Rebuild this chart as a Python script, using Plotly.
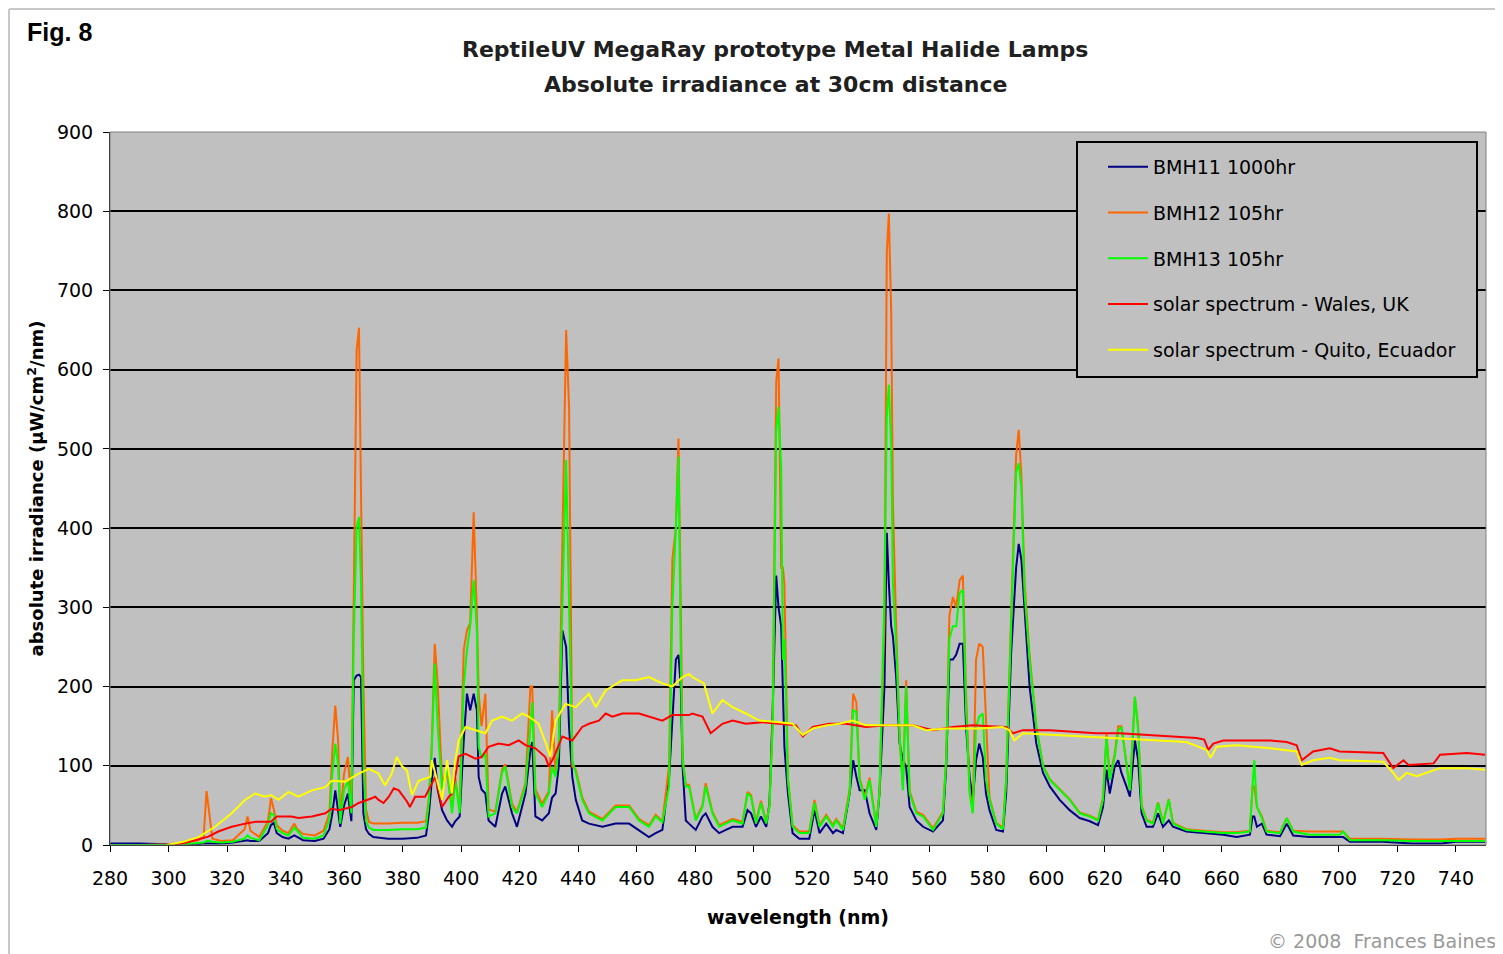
import plotly.graph_objects as go

# ---------------- data ----------------
lamp_nm = [280, 290, 300, 305, 310, 312, 313, 314, 315, 318, 322, 326, 327, 328, 331,
           334, 335, 336, 337, 339, 341, 343, 344, 346, 350, 353, 355, 356, 357, 358,
           358.7, 360, 361.3, 362.5, 363.3, 364.3, 365.1, 365.8, 366.6, 367.5, 368.5,
           370, 375, 380, 385, 388, 389, 390, 391, 392, 393.5, 395.2, 396.9, 398, 399.5,
           400.9, 402, 403.1, 404.3, 405.4, 406, 407, 408.3, 409.4, 411.7, 414, 415.1,
           417.4, 419.1, 422, 423.7, 424.3, 425.4, 427.7, 430, 431.1, 432.3, 433.4,
           434.6, 435.9, 436.9, 438, 439.2, 441.4, 443.7, 448.3, 452.8, 457.4, 460.8,
           464.2, 466.5, 468.8, 471.1, 472.2, 473.4, 474.3, 475.1, 475.7, 476.8, 477.9,
           480.2, 482.5, 483.6, 485.9, 488.2, 490.5, 492.8, 496.2, 497.9, 499.1, 500.8,
           502.5, 504.3, 505.4, 506.5, 507.7, 508.5, 509.4, 510, 510.5, 511.7, 513.3,
           515.6, 519, 520.8, 522.5, 524.8, 527.1, 528.2, 530.5, 532.8, 534, 535.1,
           536.2, 538, 539.6, 541.9, 543, 544.7, 545.5, 546.2, 547, 547.6, 548.7, 549.9,
           551, 552.1, 553.3, 555.6, 557.9, 561.3, 564.7, 565.8, 566.9, 568.1, 569.2,
           570.4, 571.5, 572.6, 573.8, 574.9, 576, 577.1, 578.3, 579.4, 580.6, 582.9,
           585.2, 586.3, 588, 589.7, 590.6, 591.5, 592.6, 594.3, 596.6, 598.9, 601.2,
           604.6, 608, 611.4, 614.9, 617.7, 619.4, 620.6, 621.7, 623.4, 624.6, 625.7,
           627.4, 628.6, 630.3, 631.4, 632.6, 634.3, 636.5, 638.2, 639.9, 641.9, 643.3,
           647.9, 653.7, 660.5, 665.1, 669.6, 670.5, 671.1, 672, 673.7, 675.3, 679.9,
           682.2, 684.4, 690, 700.3, 701.5, 703.8, 715, 725, 735, 740, 750]

bmh11 = [2, 2, 1, 1, 1, 2, 2, 2, 2, 2, 3, 5, 6, 5, 5,
         15, 25, 28, 15, 10, 8, 12, 10, 6, 5, 8, 20, 40, 69, 40,
         23, 50, 65, 30, 208, 214, 215, 212, 40, 20, 14,
         10, 8, 8, 9, 12, 40, 82, 110, 70, 44, 31, 23, 30, 36,
         132, 191, 170, 191, 170, 86, 70, 65, 31, 23, 65, 74,
         40, 23, 65, 120, 130, 36, 31, 40, 60, 65, 100,
         271, 250, 149, 86, 57, 31, 27, 23, 27, 27, 19,
         10, 15, 19, 86, 150, 234, 240, 200, 99, 31, 27,
         19, 36, 40, 23, 15, 19, 23, 23, 44, 40, 23,
         36, 23, 53, 170, 340, 300, 276, 200, 124, 65, 15,
         8, 8, 44, 15, 27, 15, 19, 15, 65, 107, 86,
         69, 69, 40, 19, 65, 200, 394, 330, 276, 263, 212, 128,
         107, 99, 48, 31, 23, 17, 31, 99, 234, 234, 240,
         254, 254, 149, 86, 57, 107, 128, 111, 65, 44, 19,
         17, 65, 242, 350, 380, 360, 301, 200, 128, 91, 74,
         57, 44, 34, 30, 25, 48, 95, 65, 99, 107, 91,
         74, 61, 132, 107, 40, 23, 23, 40, 23, 31, 23,
         17, 15, 13, 10, 13, 36, 36, 23, 27, 13, 11,
         27, 12, 10, 10, 10, 4, 4, 2, 2, 4, 4]

bmh12 = [0, 0, 1, 3, 6, 10, 68, 35, 8, 5, 6, 20, 36, 18, 10,
         30, 59, 45, 25, 18, 15, 27, 20, 14, 12, 18, 40, 120, 176, 130,
         35, 90, 111, 55, 340, 625, 653, 461, 205, 45, 29,
         27, 27, 28, 28, 30, 60, 130, 254, 204, 80, 90, 45, 85, 45,
         246, 271, 280, 420, 290, 191, 150, 191, 45, 42, 95, 102,
         52, 42, 78, 200, 200, 70, 52, 68, 170, 90, 130,
         400, 650, 554, 99, 95, 60, 42, 33, 50, 50, 33,
         25, 38, 30, 100, 360, 400, 513, 300, 110, 76, 76,
         33, 50, 78, 42, 25, 29, 33, 29, 67, 63, 29,
         56, 29, 50, 160, 585, 614, 350, 350, 330, 85, 25,
         17, 17, 57, 25, 38, 25, 33, 21, 70, 191, 180,
         85, 60, 85, 25, 68, 280, 747, 797, 673, 430, 276, 132,
         75, 208, 68, 42, 38, 21, 42, 110, 290, 313, 300,
         334, 340, 190, 70, 42, 234, 254, 250, 149, 60, 28,
         22, 85, 276, 492, 524, 465, 330, 240, 150, 100, 83,
         70, 58, 41, 37, 32, 60, 140, 85, 115, 150, 150,
         100, 70, 187, 150, 50, 32, 28, 54, 28, 58, 28,
         20, 18, 16, 16, 18, 74, 74, 48, 36, 18, 16,
         34, 18, 17, 17, 17, 8, 8, 7, 7, 8, 8]

bmh13 = [0, 0, 0, 1, 2, 3, 5, 5, 4, 3, 4, 8, 12, 9, 6,
         25, 40, 38, 20, 15, 12, 22, 18, 9, 8, 12, 32, 90, 128, 100,
         27, 70, 81, 40, 260, 400, 414, 330, 110, 30, 22,
         19, 19, 20, 20, 22, 55, 120, 229, 150, 70, 99, 40, 82, 40,
         200, 246, 276, 334, 270, 124, 110, 115, 36, 40, 91, 99,
         48, 40, 74, 149, 180, 65, 48, 65, 99, 86, 124,
         300, 486, 305, 107, 91, 57, 40, 31, 48, 48, 31,
         23, 36, 29, 74, 300, 400, 490, 234, 107, 74, 74,
         31, 48, 74, 40, 23, 27, 31, 27, 65, 61, 27,
         53, 27, 48, 149, 522, 553, 477, 234, 260, 82, 23,
         15, 15, 53, 23, 36, 23, 31, 19, 65, 170, 168,
         82, 57, 82, 23, 65, 318, 541, 581, 503, 330, 250, 140,
         69, 200, 65, 40, 36, 19, 40, 107, 260, 276, 276,
         318, 322, 170, 65, 40, 149, 162, 166, 82, 57, 27,
         20, 82, 276, 470, 482, 450, 318, 234, 149, 99, 82,
         69, 57, 40, 36, 31, 57, 137, 82, 111, 145, 149,
         99, 69, 187, 145, 48, 31, 27, 53, 27, 57, 27,
         19, 17, 15, 15, 17, 74, 107, 48, 34, 17, 15,
         34, 17, 13, 13, 17, 6, 6, 5, 5, 5, 5]

wales_nm = [302, 306, 310, 313.6, 317, 321.6, 326.2, 330, 335, 337, 342, 344.4, 349,
            353.6, 355.8, 358.1, 362.7, 365, 369.5, 370.7, 371.8, 373.5, 375.3, 377,
            378.7, 381.5, 382.5, 384.3, 387.7, 390, 391.2, 393.5, 395.8, 397, 399.2,
            401.5, 404.9, 407, 409.4, 412.8, 416.3, 419.7, 422, 425.4, 428.8, 430,
            431.7, 434.6, 438, 441.4, 443.7, 447.1, 449.4, 451.7, 455.1, 460.8, 464.2,
            468.8, 472.2, 477.9, 479, 482.5, 485.3, 489.3, 492.8, 497.3, 503, 508.8,
            514.5, 516.8, 520.2, 525.9, 531.6, 538.4, 545.3, 554.4, 561.3, 568.1,
            574.9, 580.6, 586.3, 588.6, 592, 601.2, 608, 617.1, 625.1, 633, 642.2,
            651.4, 654, 655.4, 657.1, 660.5, 668.5, 676.5, 682.2, 685.6, 687.3, 691.2,
            696.9, 700.3, 715.2, 718.6, 722.1, 723.8, 732.4, 734.6, 743.8, 750]
wales = [0, 3, 7, 10.5, 17, 23, 27, 29.5, 29.5, 36, 36, 34, 36,
         40, 46, 44, 48, 53, 59, 61, 57, 53, 61, 71.5,
         69, 55, 48, 61, 61, 78, 86, 48, 61, 65, 112,
         115, 109, 111, 124, 128, 126, 132, 126, 122, 111, 99,
         111, 137, 132, 149, 153, 157, 166, 162, 166, 166, 162,
         157, 164, 164, 166, 162, 141, 153, 157, 153, 155, 153,
         151, 137, 149, 153, 153, 149, 151, 151, 145, 149,
         151, 150, 149, 141, 145, 145, 143, 141, 141, 139, 137,
         135, 133, 120, 128, 132, 132, 132, 130, 126, 107, 118,
         122, 118, 116, 97, 107, 101, 103, 114, 116, 114]

quito_nm = [299.4, 305, 310.2, 315.9, 321.6, 326.2, 329.6, 333, 335, 337.6, 341, 344.4,
            349, 353.6, 355.8, 360.4, 365, 368.5, 371.8, 374, 376.3, 378, 379.7, 381.5,
            383.2, 385.5, 387.8, 389.5, 390, 392.3, 393.5, 395.2, 396.9, 398, 399.2,
            401.5, 404.9, 408.3, 410.6, 414, 417.4, 420.9, 423.1, 426.5, 429.4, 430.5,
            432.3, 435.7, 439.2, 443.7, 446, 449.4, 455.1, 459.7, 464.2, 468.8, 472.2,
            475.7, 477.9, 479, 483, 485.9, 489.3, 492.8, 497.3, 501.9, 508.8, 513.3,
            516.8, 520.2, 524.8, 529.3, 533.8, 538.4, 543, 554.4, 559, 565.8, 577.2,
            585, 587.4, 589.1, 592, 602.3, 613.7, 625.1, 636.5, 647.9, 654.8, 656.2,
            658.2, 665.1, 676.5, 685.6, 687.3, 691.2, 696.9, 700.3, 715.2, 718.6, 720.4,
            723.2, 726.6, 730, 734.6, 743.8, 750]
quito = [0, 4, 10, 23, 40, 57, 65, 61, 63, 57, 67, 61,
         69, 73, 81, 80, 90, 96, 90, 75, 90, 111, 100, 94,
         63, 81, 84, 86, 107, 74, 57, 107, 65, 107, 132,
         149, 145, 141, 157, 162, 157, 166, 162, 153, 124, 111,
         157, 178, 174, 191, 174, 195, 208, 208, 212, 204, 200,
         212, 216, 212, 204, 166, 183, 174, 166, 157, 155, 153,
         139, 147, 151, 153, 157, 151, 151, 151, 145, 147, 147,
         149, 145, 132, 141, 139, 137, 135, 132, 130, 120, 110,
         124, 126, 122, 118, 101, 107, 110, 107, 105, 91, 82,
         91, 87, 91, 97, 97, 95]

series_names = ["BMH11 1000hr", "BMH12 105hr", "BMH13 105hr",
                "solar spectrum - Wales, UK", "solar spectrum - Quito, Ecuador"]
x_ticks = list(range(280, 741, 20))
y_ticks = list(range(0, 901, 100))

# ---------------- figure ----------------
FONT = "DejaVu Sans"
W, H = 1495, 946          # page body has an 8px margin
ML, MT, PW, PH = 102, 124, 1376, 713


def px(xf):   # figure pixel -> paper x
    return (xf - ML) / PW


def py(yf):   # figure pixel -> paper y
    return (MT + PH - yf) / PH


fig = go.Figure()
specs = [
    (lamp_nm, bmh11, "#000080"),
    (lamp_nm, bmh12, "#FF6600"),
    (lamp_nm, bmh13, "#00FF00"),
    (wales_nm, wales, "#FF0000"),
    (quito_nm, quito, "#FFFF00"),
]
for i, ((xs, ys, col), name) in enumerate(zip(specs, series_names)):
    fig.add_trace(go.Scatter(x=xs, y=ys, mode="lines", name=name,
                             legendgroup=f"g{i}",
                             line=dict(color=col, width=2)))

fig.update_layout(
    width=W, height=H,
    margin=dict(l=ML, r=W - ML - PW, t=MT, b=H - MT - PH),
    paper_bgcolor="white",
    plot_bgcolor="#C0C0C0",
    font=dict(family=FONT, size=19, color="black"),
    showlegend=True,
    legend=dict(x=px(1095), y=py(140), xanchor="left", yanchor="top",
                bgcolor="rgba(0,0,0,0)", borderwidth=0,
                font=dict(family=FONT, size=19, color="black"),
                tracegroupgap=18, itemwidth=40),
    xaxis=dict(range=[280, 750.3], tickmode="array", tickvals=x_ticks,
               ticks="outside", ticklen=6, tickwidth=1, tickcolor="black",
               ticklabelstandoff=10,
               showline=True, linecolor="black", linewidth=1, mirror=False,
               showgrid=False, zeroline=False,
               tickfont=dict(family=FONT, size=19),
               title=dict(text="<b>wavelength (nm)</b>", standoff=22,
                          font=dict(family=FONT, size=19))),
    yaxis=dict(range=[0, 900], tickmode="array", tickvals=y_ticks,
               ticks="outside", ticklen=6, tickwidth=1, tickcolor="black",
               ticklabelstandoff=6,
               showline=True, linecolor="black", linewidth=1,
               showgrid=True, gridcolor="black", gridwidth=2, zeroline=False,
               tickfont=dict(family=FONT, size=19),
               title=dict(text="<b>absolute irradiance (µW/cm<sup>2</sup>/nm)</b>",
                          standoff=8, font=dict(family=FONT, size=18))),
)

# plot-area frame, legend frame (grey filled, hides gridlines) and outer border
fig.add_shape(type="rect", xref="paper", yref="paper", x0=0, y0=0, x1=1, y1=1,
              line=dict(color="#808080", width=1), layer="above")
fig.add_shape(type="rect", xref="paper", yref="paper",
              x0=px(1069), x1=px(1469), y0=py(369), y1=py(134),
              fillcolor="#C0C0C0",
              line=dict(color="black", width=2), layer="above")
fig.add_shape(type="line", xref="paper", yref="paper", x0=px(1), x1=px(1),
              y0=py(H), y1=py(1), line=dict(color="#C8C8C8", width=2))
fig.add_shape(type="line", xref="paper", yref="paper", x0=px(1), x1=px(W),
              y0=py(1), y1=py(1), line=dict(color="#C8C8C8", width=2))

fig.add_annotation(text="<b>ReptileUV MegaRay prototype Metal Halide Lamps</b>",
                   xref="paper", yref="paper", x=px(767), y=py(42),
                   xanchor="center", yanchor="middle",
                   showarrow=False, font=dict(family=FONT, size=22, color="#202020"))
fig.add_annotation(text="<b>Absolute irradiance at 30cm distance</b>",
                   xref="paper", yref="paper", x=px(767), y=py(76),
                   xanchor="center", yanchor="middle",
                   showarrow=False, font=dict(family=FONT, size=22, color="#202020"))
fig.add_annotation(text="<b>Fig. 8</b>", xref="paper", yref="paper",
                   x=px(17), y=py(24), xanchor="left", yanchor="middle",
                   showarrow=False, font=dict(family="Liberation Sans", size=25))
fig.add_annotation(text="© 2008  Frances Baines", xref="paper", yref="paper",
                   x=px(1490), y=py(933), xanchor="right", yanchor="middle",
                   showarrow=False, font=dict(family=FONT, size=19, color="#999999"))

fig.write_html("out.html")
